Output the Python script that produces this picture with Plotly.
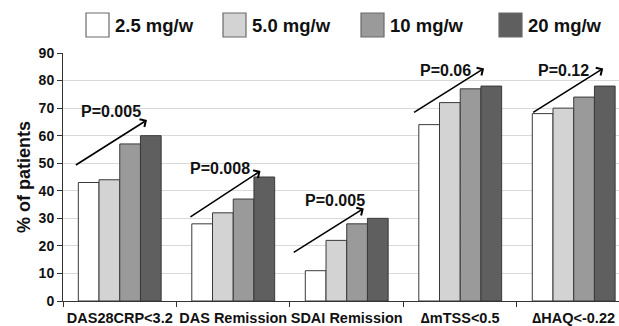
import plotly.graph_objects as go

categories = ["DAS28CRP<3.2", "DAS Remission", "SDAI Remission", "\u2206mTSS<0.5", "\u2206HAQ<-0.22"]
series_names = ["2.5 mg/w", "5.0 mg/w", "10 mg/w", "20 mg/w"]
dose_2_5 = [43, 28, 11, 64, 68]
dose_5_0 = [44, 32, 22, 72, 70]
dose_10 = [57, 37, 28, 77, 74]
dose_20 = [60, 45, 30, 78, 78]
series_values = [dose_2_5, dose_5_0, dose_10, dose_20]
p_labels = ["P=0.005", "P=0.008", "P=0.005", "P=0.06", "P=0.12"]
y_ticks = [0, 10, 20, 30, 40, 50, 60, 70, 80, 90]

colors = ["#ffffff", "#d3d3d3", "#9a9a9a", "#5f5f5f"]
FONT = "Arial, Liberation Sans, sans-serif"

fig = go.Figure()
for name, vals, col in zip(series_names, series_values, colors):
    fig.add_trace(go.Bar(
        name=name, x=categories, y=vals,
        marker=dict(color=col, line=dict(color="#3a3a3a", width=1)),
        showlegend=False,
    ))

# trend arrows (start -> tip) in category units / data units
arrow_start_dx = [-0.40, -0.39, -0.48, -0.42, -0.37]
arrow_start_y = [49, 30.2, 17.3, 68.1, 68.1]
arrow_tip_dx = [0.24, 0.24, 0.15, 0.21, 0.26]
arrow_tip_y = [65.7, 47.2, 33.6, 84.4, 84.4]
label_dx = [-0.074, -0.116, -0.10, -0.13, -0.09]
label_y = [68.7, 48.1, 36.6, 83.6, 83.6]

annotations = []
for i in range(len(categories)):
    annotations.append(dict(
        x=i + arrow_tip_dx[i], y=arrow_tip_y[i], xref="x", yref="y",
        ax=i + arrow_start_dx[i], ay=arrow_start_y[i], axref="x", ayref="y",
        showarrow=True, arrowhead=4, arrowsize=1.1, arrowwidth=1.6,
        arrowcolor="#000000", text="",
    ))
    annotations.append(dict(
        x=i + label_dx[i], y=label_y[i], xref="x", yref="y",
        text=p_labels[i], showarrow=False,
        font=dict(family=FONT, size=16, color="#111111", weight="bold"),
    ))

# legend drawn at the top
shapes = []
plot_left, plot_right = 63, 619
plot_top, plot_bottom = 53, 301
pw = plot_right - plot_left
ph = plot_bottom - plot_top
legend_box_x = [86, 223, 361, 499]
for name, col, bx in zip(series_names, colors, legend_box_x):
    x0 = (bx - plot_left) / pw
    x1 = (bx + 23 - plot_left) / pw
    y0 = 1 + (plot_top - 37) / ph
    y1 = 1 + (plot_top - 13) / ph
    shapes.append(dict(type="rect", xref="paper", yref="paper",
                       x0=x0, x1=x1, y0=y0, y1=y1,
                       fillcolor=col, line=dict(color="#6a6a6a", width=1.2)))
    annotations.append(dict(
        x=(bx + 27 - plot_left) / pw, y=1 + (plot_top - 25) / ph,
        xref="paper", yref="paper", xanchor="left", yanchor="middle",
        text=name, showarrow=False,
        font=dict(family=FONT, size=18.5, color="#111111", weight="bold"),
    ))

fig.update_layout(
    width=619, height=326,
    margin=dict(l=63, r=0, t=53, b=25),
    paper_bgcolor="white", plot_bgcolor="white",
    barmode="group", bargap=0.27, bargroupgap=0,
    annotations=annotations, shapes=shapes,
    font=dict(family=FONT, color="#111111"),
)
fig.update_xaxes(
    range=[-0.5, 4.399], showline=True, linecolor="#333333", linewidth=1,
    ticks="outside", tickson="boundaries", ticklen=5, tickcolor="#333333",
    tickangle=0, showgrid=False, ticklabelstandoff=4,
    tickfont=dict(family=FONT, size=14.5, color="#111111", weight="bold"),
)
fig.update_yaxes(
    range=[0, 90], tickvals=y_ticks, showline=True, linecolor="#333333", linewidth=1,
    ticks="outside", ticklen=5, tickcolor="#333333",
    showgrid=True, gridcolor="#d9d9d9", gridwidth=1, zeroline=False,
    tickfont=dict(family=FONT, size=14, color="#111111", weight="bold"),
    title=dict(text="% of patients", standoff=3,
               font=dict(family=FONT, size=18, color="#111111", weight="bold")),
)

fig.write_html("out.html", config={"displayModeBar": False},
               post_script="document.body.style.margin='0';")
